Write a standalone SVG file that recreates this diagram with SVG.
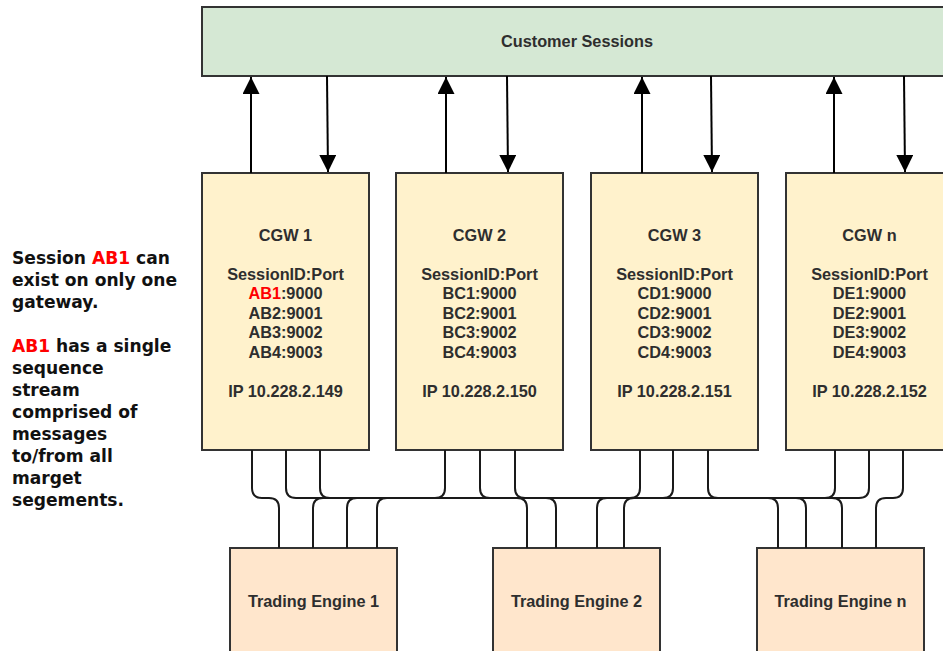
<svg xmlns="http://www.w3.org/2000/svg" width="943" height="651" viewBox="0 0 943 651">
  <style>
    .box { stroke: #333333; stroke-width: 2; }
    .sess { fill: #d5e8d4; }
    .cgw { fill: #fff2cc; }
    .te { fill: #ffe6cc; }
    .lbl { font-family: "Liberation Sans", Arial, sans-serif; font-size: 16.3px; font-weight: bold; fill: #2e2e2e; text-anchor: middle; }
    .note { font-family: "DejaVu Sans", Verdana, sans-serif; font-size: 17.1px; font-weight: bold; fill: #111111; }
    .red { fill: #ff0000; }
    .arrow { stroke: #000000; stroke-width: 2; fill: none; }
    .wire { stroke: #1a1a1a; stroke-width: 2; fill: none; }
  </style>
  <defs>
    <marker id="head" viewBox="0 0 18 17" refX="17" refY="8.5" markerWidth="18" markerHeight="17" markerUnits="userSpaceOnUse" orient="auto">
      <path d="M0 0 L17 8.5 L0 17 Z" fill="#000000"/>
    </marker>
  </defs>

  <!-- side note -->
  <g id="note">
    <text class="note" x="12" y="264"><tspan>Session </tspan><tspan class="red">AB1</tspan><tspan> can</tspan></text>
    <text class="note" x="12" y="286">exist on only one</text>
    <text class="note" x="12" y="308">gateway.</text>
    <text class="note" x="12" y="352"><tspan class="red">AB1</tspan><tspan> has a single</tspan></text>
    <text class="note" x="12" y="374">sequence</text>
    <text class="note" x="12" y="396">stream</text>
    <text class="note" x="12" y="418">comprised of</text>
    <text class="note" x="12" y="440">messages</text>
    <text class="note" x="12" y="462">to/from all</text>
    <text class="note" x="12" y="484">marget</text>
    <text class="note" x="12" y="506">segements.</text>
  </g>

  <!-- session layer -->
  <g id="customer-sessions">
    <rect class="box sess" x="202" y="7" width="750" height="69"/>
    <text class="lbl" x="577" y="47">Customer Sessions</text>
  </g>

  <!-- gateways -->
  <g id="cgw1">
    <rect class="box cgw" x="202" y="173" width="167" height="277"/>
    <text class="lbl" x="285.5" y="241">CGW 1</text>
    <text class="lbl" x="285.5" y="280">SessionID:Port</text>
    <text class="lbl" x="285.5" y="299"><tspan class="red">AB1</tspan><tspan>:9000</tspan></text>
    <text class="lbl" x="285.5" y="318.5">AB2:9001</text>
    <text class="lbl" x="285.5" y="338">AB3:9002</text>
    <text class="lbl" x="285.5" y="357.5">AB4:9003</text>
    <text class="lbl" x="285.5" y="396.5">IP 10.228.2.149</text>
  </g>
  <g id="cgw2">
    <rect class="box cgw" x="396" y="173" width="167" height="277"/>
    <text class="lbl" x="479.5" y="241">CGW 2</text>
    <text class="lbl" x="479.5" y="280">SessionID:Port</text>
    <text class="lbl" x="479.5" y="299">BC1:9000</text>
    <text class="lbl" x="479.5" y="318.5">BC2:9001</text>
    <text class="lbl" x="479.5" y="338">BC3:9002</text>
    <text class="lbl" x="479.5" y="357.5">BC4:9003</text>
    <text class="lbl" x="479.5" y="396.5">IP 10.228.2.150</text>
  </g>
  <g id="cgw3">
    <rect class="box cgw" x="591" y="173" width="167" height="277"/>
    <text class="lbl" x="674.5" y="241">CGW 3</text>
    <text class="lbl" x="674.5" y="280">SessionID:Port</text>
    <text class="lbl" x="674.5" y="299">CD1:9000</text>
    <text class="lbl" x="674.5" y="318.5">CD2:9001</text>
    <text class="lbl" x="674.5" y="338">CD3:9002</text>
    <text class="lbl" x="674.5" y="357.5">CD4:9003</text>
    <text class="lbl" x="674.5" y="396.5">IP 10.228.2.151</text>
  </g>
  <g id="cgwn">
    <rect class="box cgw" x="786" y="173" width="167" height="277"/>
    <text class="lbl" x="869.5" y="241">CGW n</text>
    <text class="lbl" x="869.5" y="280">SessionID:Port</text>
    <text class="lbl" x="869.5" y="299">DE1:9000</text>
    <text class="lbl" x="869.5" y="318.5">DE2:9001</text>
    <text class="lbl" x="869.5" y="338">DE3:9002</text>
    <text class="lbl" x="869.5" y="357.5">DE4:9003</text>
    <text class="lbl" x="869.5" y="396.5">IP 10.228.2.152</text>
  </g>

  <!-- trading engines -->
  <g id="te1">
    <rect class="box te" x="230" y="548" width="167" height="108"/>
    <text class="lbl" x="313.5" y="607">Trading Engine 1</text>
  </g>
  <g id="te2">
    <rect class="box te" x="493" y="548" width="167" height="108"/>
    <text class="lbl" x="576.5" y="607">Trading Engine 2</text>
  </g>
  <g id="ten">
    <rect class="box te" x="757" y="548" width="167" height="108"/>
    <text class="lbl" x="840.5" y="607">Trading Engine n</text>
  </g>

  <!-- connectors -->
  <g id="connectors">
    <!-- gateway <-> sessions -->
    <path class="arrow" d="M251 173 V77" marker-end="url(#head)"/>
    <path class="arrow" d="M327 76 L328 172" marker-end="url(#head)"/>
    <path class="arrow" d="M446 173 V77" marker-end="url(#head)"/>
    <path class="arrow" d="M507 76 L508 172" marker-end="url(#head)"/>
    <path class="arrow" d="M642 173 V77" marker-end="url(#head)"/>
    <path class="arrow" d="M711 76 L712 172" marker-end="url(#head)"/>
    <path class="arrow" d="M834 173 V77" marker-end="url(#head)"/>
    <path class="arrow" d="M904 76 L905 172" marker-end="url(#head)"/>

    <!-- gateway -> engine links over the shared bus at y=498 -->
    <path class="wire" d="M252 450 V488 Q252 498 262 498 H269 Q279 498 279 508 V548"/>
    <path class="wire" d="M445 450 V488 Q445 498 435 498 H323 Q313 498 313 508 V548"/>
    <path class="wire" d="M640 450 V488 Q640 498 630 498 H357 Q347 498 347 508 V548"/>
    <path class="wire" d="M835 450 V488 Q835 498 825 498 H387 Q377 498 377 508 V548"/>
    <path class="wire" d="M286 450 V488 Q286 498 296 498 H517 Q527 498 527 508 V548"/>
    <path class="wire" d="M480 450 V488 Q480 498 490 498 H546 Q556 498 556 508 V548"/>
    <path class="wire" d="M673 450 V488 Q673 498 663 498 H607 Q597 498 597 508 V548"/>
    <path class="wire" d="M869 450 V488 Q869 498 859 498 H634 Q624 498 624 508 V548"/>
    <path class="wire" d="M320 450 V488 Q320 498 330 498 H768 Q778 498 778 508 V548"/>
    <path class="wire" d="M515 450 V488 Q515 498 525 498 H796 Q806 498 806 508 V548"/>
    <path class="wire" d="M708 450 V488 Q708 498 718 498 H832 Q842 498 842 508 V548"/>
    <path class="wire" d="M903 450 V488 Q903 498 893 498 H886 Q876 498 876 508 V548"/>
  </g>
</svg>
